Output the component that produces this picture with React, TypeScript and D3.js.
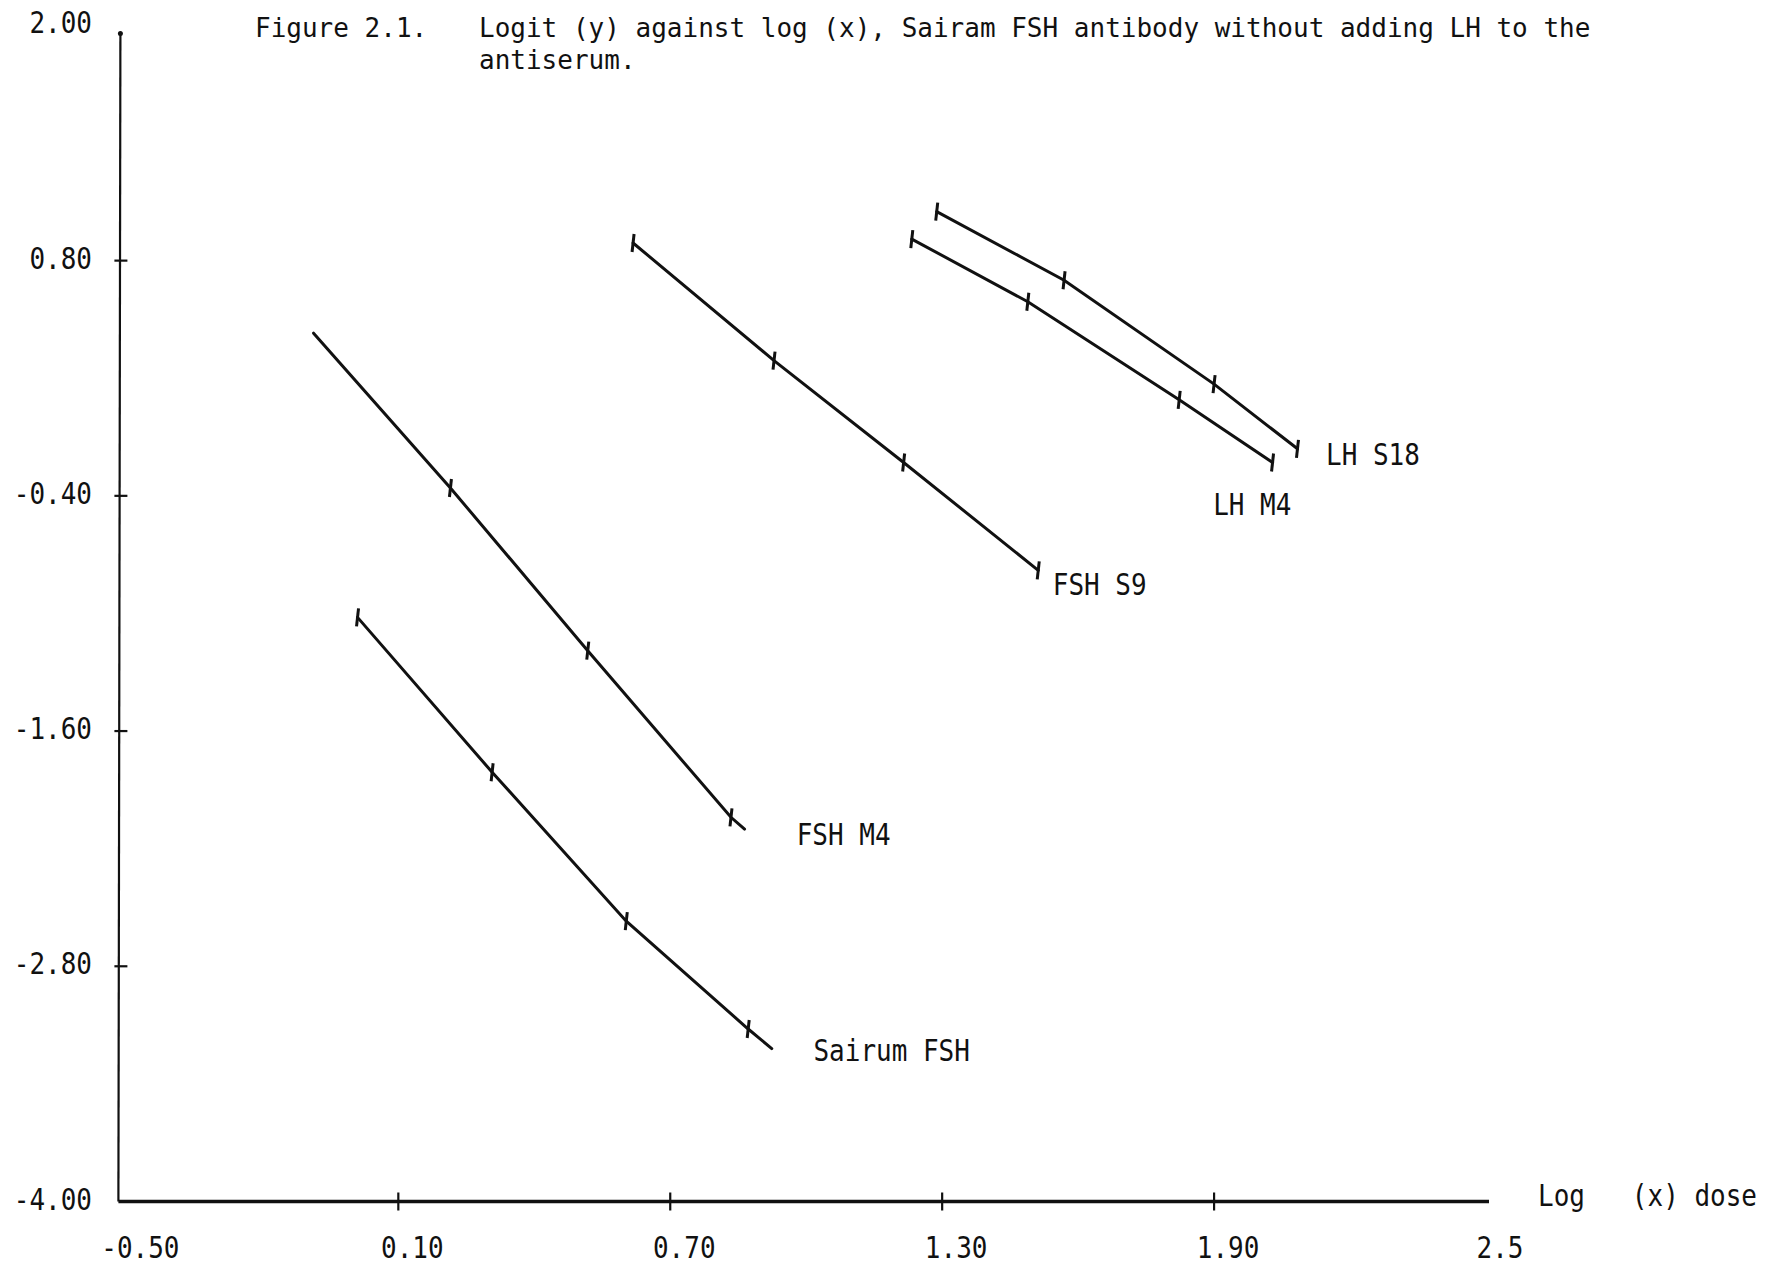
import React, { useEffect, useRef } from 'react';
import * as d3 from 'd3';

// axis ticks
const yTicks = [2.0, 0.8, -0.4, -1.6, -2.8, -4.0];
const yTickLabels = ['2.00', '0.80', '-0.40', '-1.60', '-2.80', '-4.00'];
const xTicks = [-0.5, 0.1, 0.7, 1.3, 1.9, 2.5];
const xTickLabels = ['-0.50', '0.10', '0.70', '1.30', '1.90', '2.5'];
const xMarked = [false, true, true, true, true, false];
const yMarked = [false, true, true, true, true, false];

// series (logit y against log x dose)
const seriesNames = ['Sairum FSH', 'FSH M4', 'FSH S9', 'LH M4', 'LH S18'];
const sairumX = [0.01, 0.307, 0.603, 0.872, 0.924];
const sairumY = [-1.02, -1.81, -2.57, -3.12, -3.22];
const sairumMarks = [true, true, true, true, false];
const fshM4X = [-0.087, 0.215, 0.518, 0.834, 0.864];
const fshM4Y = [0.43, -0.36, -1.19, -2.04, -2.1];
const fshM4Marks = [false, true, true, true, false];
const fshS9X = [0.618, 0.929, 1.215, 1.512];
const fshS9Y = [0.89, 0.29, -0.23, -0.78];
const fshS9Marks = [true, true, true, true];
const lhM4X = [1.233, 1.489, 1.823, 2.029];
const lhM4Y = [0.91, 0.59, 0.09, -0.23];
const lhM4Marks = [true, true, true, true];
const lhS18X = [1.288, 1.569, 1.9, 2.084];
const lhS18Y = [1.05, 0.7, 0.17, -0.16];
const lhS18Marks = [true, true, true, true];

// where each series name is written (data units)
const labelX = [1.016, 0.979, 1.544, 1.898, 2.147];
const labelY = [-3.227, -2.125, -0.85, -0.44, -0.186];

const titleLine1 = 'Logit (y) against log (x), Sairam FSH antibody without adding LH to the';
const titleLine2 = 'antiserum.';

const W = 1769;
const H = 1268;
const FONT = '"DejaVu Sans Mono", "Liberation Mono", monospace';
const INK = '#111';

export default function App() {
  const svgRef = useRef<SVGSVGElement>(null);

  useEffect(() => {
    if (!svgRef.current) return;
    const svg = d3.select(svgRef.current);
    svg.selectAll('*').remove();

    const x = d3.scaleLinear().domain([-0.5, 2.5]).range([126.4, 1486]);
    const y = d3.scaleLinear().domain([-4, 2]).range([1201.5, 25.4]);
    const axisX = x(-0.5) - 8;

    svg.append('rect').attr('width', W).attr('height', H).attr('fill', '#fff');

    // typewriter-ish text: monospace, stretched a little vertically
    const txt = (px: number, py: number, s: string, anchor = 'start', sy = 1.15) =>
      svg.append('text')
        .attr('transform', `translate(${px},${py}) scale(1,${sy})`)
        .attr('text-anchor', anchor)
        .style('font-family', FONT)
        .style('font-size', '26px')
        .style('fill', INK)
        .style('white-space', 'pre')
        .text(s);

    // title
    txt(255, 37, 'Figure 2.1.', 'start', 1);
    txt(479, 37, titleLine1, 'start', 1);
    txt(479, 69, titleLine2, 'start', 1);

    // y axis
    svg.append('line')
      .attr('x1', axisX + 2).attr('x2', axisX)
      .attr('y1', y(2) + 7).attr('y2', y(-4))
      .attr('stroke', INK).attr('stroke-width', 2.2);
    svg.append('circle').attr('cx', axisX + 2).attr('cy', y(2) + 8).attr('r', 2.5).attr('fill', INK);

    yTicks.forEach((v, i) => {
      if (yMarked[i]) {
        svg.append('line')
          .attr('x1', axisX - 4).attr('x2', axisX + 9)
          .attr('y1', y(v)).attr('y2', y(v))
          .attr('stroke', INK).attr('stroke-width', 2.2);
      }
      txt(92, y(v) + 8, yTickLabels[i], 'end');
    });

    // x axis
    svg.append('line')
      .attr('x1', axisX).attr('x2', x(2.5) + 3)
      .attr('y1', y(-4)).attr('y2', y(-4))
      .attr('stroke', INK).attr('stroke-width', 3.5);

    xTicks.forEach((v, i) => {
      if (xMarked[i]) {
        svg.append('line')
          .attr('x1', x(v)).attr('x2', x(v))
          .attr('y1', y(-4) - 9).attr('y2', y(-4) + 9)
          .attr('stroke', INK).attr('stroke-width', 2.2);
      }
      txt(x(v) + 14, 1258, xTickLabels[i], 'middle');
    });

    txt(1538, 1206, 'Log   (x) dose');

    // series lines
    const xs = [sairumX, fshM4X, fshS9X, lhM4X, lhS18X];
    const ys = [sairumY, fshM4Y, fshS9Y, lhM4Y, lhS18Y];
    const marks = [sairumMarks, fshM4Marks, fshS9Marks, lhM4Marks, lhS18Marks];

    const line = d3.line<[number, number]>()
      .x(d => x(d[0]))
      .y(d => y(d[1]));

    seriesNames.forEach((name, s) => {
      const pts = xs[s].map((v, i) => [v, ys[s][i]] as [number, number]);
      svg.append('path')
        .attr('d', line(pts))
        .attr('fill', 'none')
        .attr('stroke', INK)
        .attr('stroke-width', 3)
        .attr('stroke-linecap', 'round');

      pts.forEach((p, i) => {
        if (!marks[s][i]) return;
        svg.append('line')
          .attr('x1', x(p[0]) + 1).attr('x2', x(p[0]) - 1)
          .attr('y1', y(p[1]) - 9).attr('y2', y(p[1]) + 9)
          .attr('stroke', INK).attr('stroke-width', 3);
      });

      txt(x(labelX[s]), y(labelY[s]) + 11, name);
    });
  }, []);

  return (
    <svg
      ref={svgRef}
      width={W}
      height={H}
      style={{ position: 'absolute', left: 0, top: 0 }}
    />
  );
}
